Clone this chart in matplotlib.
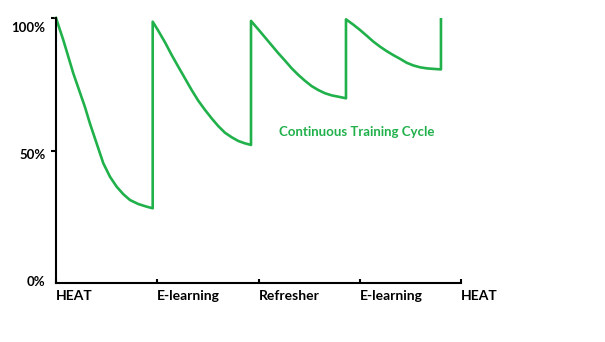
import matplotlib
matplotlib.use("Agg")
import matplotlib.pyplot as plt

# Retention (%) over the training timeline; each drop is followed by a
# refresh back to near full retention.
cycle_t = [0.000, 0.072, 0.171, 0.286, 0.336, 0.402, 0.467, 0.533, 0.600,
           0.665, 0.731, 0.813, 0.896, 0.955,
           0.955, 1.010, 1.077, 1.143, 1.208, 1.274, 1.340, 1.405, 1.472,
           1.538, 1.603, 1.669, 1.735, 1.800, 1.866, 1.926,
           1.926, 1.998, 2.064, 2.130, 2.196, 2.262, 2.328, 2.394, 2.459,
           2.525, 2.591, 2.657, 2.723, 2.789, 2.864,
           2.864, 2.936, 3.002, 3.069, 3.134, 3.200, 3.266, 3.331, 3.398,
           3.464, 3.529, 3.595, 3.661, 3.727, 3.802,
           3.802]
retention = [100.0, 91.7, 79.1, 66.4, 60.1, 52.6, 45.2, 40.1, 36.3,
             33.5, 31.3, 29.8, 28.8, 28.2,
             98.6, 95.2, 90.8, 86.0, 81.6, 77.2, 72.8, 68.8, 65.3,
             62.1, 59.2, 56.7, 55.0, 53.6, 52.7, 52.1,
             98.9, 95.7, 92.7, 89.7, 86.7, 83.9, 81.0, 78.5, 76.3,
             74.3, 72.8, 71.6, 70.8, 70.3, 69.7,
             99.5, 97.5, 95.5, 93.3, 91.1, 89.2, 87.5, 86.0, 84.6,
             83.1, 82.1, 81.4, 81.0, 80.8, 80.6,
             99.5]

stage_pos = [0, 1, 2, 3, 4]
stage_labels = ["HEAT", "E-learning", "Refresher", "E-learning", "HEAT"]
pct_ticks = [0, 50, 100]
pct_labels = ["0%", "50%", "100%"]
caption = "Continuous Training Cycle"

green = "#21b14b"
plt.rcParams["font.family"] = ["Lato", "DejaVu Sans"]

fig = plt.figure(figsize=(6.05, 3.42), dpi=100)
ax = fig.add_axes([56 / 605, 1 - 283 / 342, 405 / 605, 265 / 342])

ax.plot(cycle_t, retention, color=green, lw=1.9, clip_on=False,
        solid_joinstyle="round")

ax.set_xlim(0, 4)
ax.set_ylim(0, 100)
for s in ("top", "right"):
    ax.spines[s].set_visible(False)
for s in ("left", "bottom"):
    ax.spines[s].set_linewidth(1.5)
    ax.spines[s].set_color("black")

ax.set_xticks(stage_pos)
ax.set_xticklabels(stage_labels, ha="left", fontsize=10, fontweight="bold")
ax.tick_params(axis="x", direction="in", length=3, width=1.5, pad=5)

ax.set_yticks([50, 100])
ax.set_yticklabels([])
ax.tick_params(axis="y", direction="out", length=3.5, width=1.5)

# percentage labels sit a little below their gridline
offsets = {0: 1, 50: -4.5, 100: -10}
for v, t in zip(pct_ticks, pct_labels):
    ax.annotate(t, xy=(0, v), xycoords="data",
                xytext=(-7.5, offsets[v] * 0.72), textcoords="offset points",
                ha="right", va="center", fontsize=9.5, fontweight="bold")

ax.text(2.968, 56.9, caption, color=green, ha="center", va="center",
        fontsize=9.5, fontweight="bold")

fig.savefig("out.png", dpi=100)
